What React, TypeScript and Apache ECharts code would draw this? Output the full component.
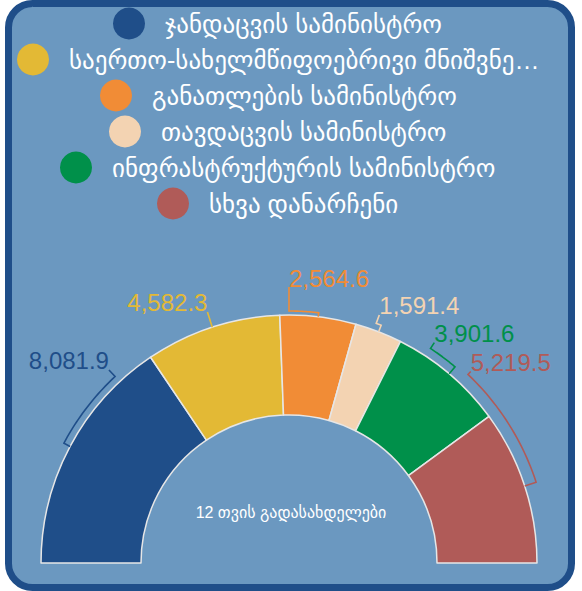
import React, { useEffect, useRef } from "react";
import * as echarts from "echarts";

const NAMES = [
  "ჯანდაცვის სამინისტრო",
  "საერთო-სახელმწიფოებრივი მნიშვნელობის ხარჯები",
  "განათლების სამინისტრო",
  "თავდაცვის სამინისტრო",
  "ინფრასტრუქტურის სამინისტრო",
  "სხვა დანარჩენი",
];
const VALUES = [8081.9, 4582.3, 2564.6, 1591.4, 3901.6, 5219.5];
const COLORS = ["#1f4e89", "#e3b935", "#f18c36", "#f3d3b2", "#00904a", "#b05b58"];
const CENTER_TEXT = "12 თვის გადასახდელები";

// layout (label placement around the half donut)
const CX = 289;
const CY = 563;
const R_IN = 148;
const R_OUT = 248;
const LABEL_ANGLES = [133, 108, 90, 70, 56.6, 46.5];
const LABEL_RADII = [264, 264, 276, 264, 264, 264];
const ARC_RADII = [255, 255, 252, 255, 257, 260];
const LEGEND_MAX_CHARS = 31;
const LEGEND_CENTER_X = 278;
const LEGEND_FONT = "Liberation Sans, DejaVu Sans, sans-serif";
const LEGEND_FONT_SIZE = 25;

const fmt = (v: number) =>
  v.toLocaleString("en-US", { minimumFractionDigits: 1, maximumFractionDigits: 1 });
const legendText = (name: string) =>
  name.length > LEGEND_MAX_CHARS ? name.slice(0, LEGEND_MAX_CHARS) + "…" : name;

export default function App() {
  const ref = useRef<HTMLDivElement>(null);
  useEffect(() => {
    document.body.style.margin = "0";
    const chart = echarts.init(ref.current!, null, { renderer: "svg" });
    const total = VALUES.reduce((a, b) => a + b, 0);
    const pt = (r: number, deg: number) => {
      const a = (deg * Math.PI) / 180;
      return [CX + r * Math.cos(a), CY - r * Math.sin(a)];
    };
    const cv = document.createElement("canvas").getContext("2d")!;
    cv.font = `${LEGEND_FONT_SIZE}px ${LEGEND_FONT}`;
    const option: any = {
      animation: false,
      graphic: [
        {
          type: "rect",
          z: -10,
          silent: true,
          shape: { x: 8.5, y: 3.5, width: 563, height: 584, r: 24 },
          style: { fill: "#6b98c0", stroke: "#1f4e89", lineWidth: 7 },
        },
      ],
      title: {
        text: CENTER_TEXT,
        left: "center",
        top: 499,
        textStyle: {
          color: "#ffffff",
          fontSize: 16,
          fontWeight: "normal",
          fontFamily: "Liberation Sans, DejaVu Sans, sans-serif",
        },
      },
      legend: NAMES.map((n, i) => {
        const w = 32 + 5 + 15 + cv.measureText(legendText(n)).width;
        return {
          data: [n],
          left: Math.round(LEGEND_CENTER_X - w / 2),
          top: 24 + 36 * i - 16.5,
          itemWidth: 32,
          itemHeight: 33,
          icon: "circle",
          itemStyle: { borderWidth: 0 },
          selectedMode: false,
          padding: 0,
          formatter: legendText,
          textStyle: {
            color: "#ffffff",
            fontSize: LEGEND_FONT_SIZE,
            fontFamily: LEGEND_FONT,
            padding: [0, 0, 0, 15],
          },
        };
      }),
      series: [
        {
          type: "pie",
          center: [CX, CY],
          radius: [R_IN, R_OUT],
          startAngle: 180,
          clockwise: true,
          silent: true,
          label: { show: false },
          labelLine: { show: false },
          itemStyle: { borderColor: "#e6e6e6", borderWidth: 1.5 },
          data: [
            ...NAMES.map((n, i) => ({
              name: n,
              value: VALUES[i],
              itemStyle: { color: COLORS[i] },
            })),
            {
              name: "__rest",
              value: total,
              itemStyle: { color: "none", borderWidth: 0 },
            },
          ],
        },
        {
          type: "custom",
          coordinateSystem: "none",
          silent: true,
          z: 5,
          data: VALUES.map((v) => [v]),
          renderItem: (params: any, api: any) => {
            const i = params.dataIndex;
            const v = api.value(0);
            let before = 0;
            for (let k = 0; k < i; k++) before += VALUES[k];
            const mid = 180 - ((before + v / 2) / total) * 180;
            const la = LABEL_ANGLES[i];
            const ar = ARC_RADII[i];
            const pts: number[][] = [pt(R_OUT, mid), pt(ar, mid)];
            const steps = 24;
            for (let s = 1; s <= steps; s++) {
              pts.push(pt(ar, mid + ((la - mid) * s) / steps));
            }
            const end = pt(LABEL_RADII[i], la);
            pts.push(end);
            const left = end[0] < CX - 1;
            return {
              type: "group",
              children: [
                {
                  type: "polyline",
                  shape: { points: pts },
                  style: { stroke: COLORS[i], lineWidth: 1.6, fill: "none" },
                },
                {
                  type: "text",
                  x: end[0],
                  y: end[1] + 3,
                  style: {
                    text: fmt(v),
                    fill: COLORS[i],
                    fontSize: 24,
                    fontFamily: "Liberation Sans, Arial, sans-serif",
                    align: left ? "right" : "left",
                    verticalAlign: "bottom",
                  },
                },
              ],
            };
          },
        },
      ],
    };
    chart.setOption(option);
    return () => chart.dispose();
  }, []);
  return <div ref={ref} style={{ width: 582, height: 591 }} />;
}
